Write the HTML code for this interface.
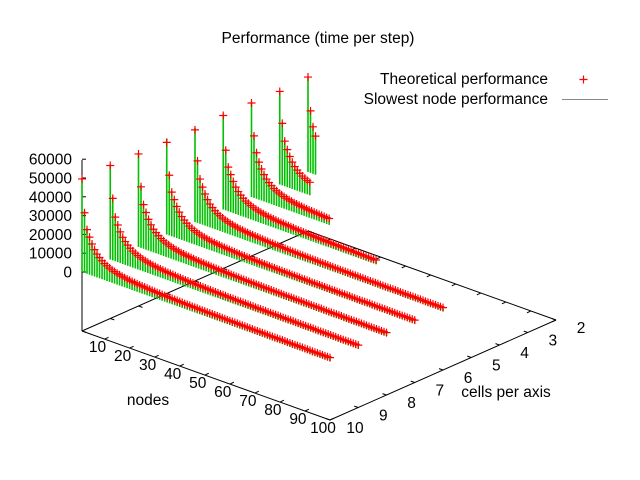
<!DOCTYPE html>
<html><head><meta charset="utf-8"><style>
html,body{margin:0;padding:0;background:#fff}
svg{display:block}
text{font-family:"Liberation Sans",Arial,sans-serif;font-size:15.5px;fill:#000}
</style></head><body>
<svg id="chart" width="640" height="480" viewBox="0 0 640 480" xmlns="http://www.w3.org/2000/svg">
<text x="318" y="43" text-anchor="middle">Performance (time per step)</text>
<g>
<text x="548" y="84" text-anchor="end">Theoretical performance</text>
<path d="M579.5,79.5h8M583.5,75.5v8" stroke="#f00" stroke-width="1.2"/>
<text x="548" y="104" text-anchor="end">Slowest node performance</text>
<line x1="562" y1="99.5" x2="608" y2="99.5" stroke="#888" stroke-width="1"/>
</g>
<g id="axes"></g>
<g id="marks"></g>
<text x="148" y="405" text-anchor="middle">nodes</text>
<text x="506" y="397" text-anchor="middle">cells per axis</text>
</svg>
<script>
// data (values in units of 100 time units)
const cellsList = [2,3,4,5,6,7,8,9,10];
const zTicks = [0,10000,20000,30000,40000,50000,60000];
const nodeTicks = [10,20,30,40,50,60,70,80,90,100];
const cellTicks = [2,3,4,5,6,7,8,9,10];
const theo2 = [505,330,250,205];
const slow2 = [505,335,258,212];
const theo3 = [495,330,240,200,168,143,124,110,98,88,81,74,69];
const slow3 = [500,338,248,208,176,151,132,118,106,96,89,82,77];
const theo4 = [500,330,245,200,168,143,124,110,98,88,81,74,69,64,60,57,54,51,49,47,45,44,42,41,40,39,38,37,36,35,34,34];
const slow4 = [505,338,253,208,176,151,132,118,106,96,89,82,77,72,68,65,62,59,57,55,53,52,50,49,48,47,46,45,44,43,42,42];
const theo5 = [500,320,235,200,168,143,124,110,98,88,81,74,69,64,60,57,54,51,49,47,45,44,42,41,40,39,38,37,36,35,34,34,33,32,32,31,31,30,30,29,29,28,28,28,27,27,27,26,26,26,25,25,25,25,24,24,24,24,23,23,23,23];
const slow5 = [505,330,243,208,176,151,132,118,106,96,89,82,77,72,68,65,62,59,57,55,53,52,50,49,48,47,46,45,44,43,42,42,41,40,40,39,39,38,38,37,37,36,36,36,35,35,35,34,34,34,33,33,33,33,32,32,32,32,31,31,31,31];
const theo6 = [490,330,238,200,168,143,124,110,98,88,81,74,69,64,60,57,54,51,49,47,45,44,42,41,40,39,38,37,36,35,34,34,33,32,32,31,31,30,30,29,29,28,28,28,27,27,27,26,26,26,25,25,25,25,24,24,24,24,23,23,23,23,23,22,22,22,22,22,21,21,21,21,21,21,20,20,20,20,20,20,20,20,19,19,19,19,19,19,19,19,19,18,18,18,18,18,18,18,18,18];
const slow6 = [500,338,246,208,176,151,132,118,106,96,89,82,77,72,68,65,62,59,57,55,53,52,50,49,48,47,46,45,44,43,42,42,41,40,40,39,39,38,38,37,37,36,36,36,35,35,35,34,34,34,33,33,33,33,32,32,32,32,31,31,31,31,31,30,30,30,30,30,29,29,29,29,29,29,28,28,28,28,28,28,28,28,27,27,27,27,27,27,27,27,27,26,26,26,26,26,26,26,26,26];
const theo7 = [490,320,235,200,168,143,124,110,98,88,81,74,69,64,60,57,54,51,49,47,45,44,42,41,40,39,38,37,36,35,34,34,33,32,32,31,31,30,30,29,29,28,28,28,27,27,27,26,26,26,25,25,25,25,24,24,24,24,23,23,23,23,23,22,22,22,22,22,21,21,21,21,21,21,20,20,20,20,20,20,20,20,19,19,19,19,19,19,19,19,19,18,18,18,18,18,18,18,18,18];
const slow7 = [510,332,243,208,176,151,132,118,106,96,89,82,77,72,68,65,62,59,57,55,53,52,50,49,48,47,46,45,44,43,42,42,41,40,40,39,39,38,38,37,37,36,36,36,35,35,35,34,34,34,33,33,33,33,32,32,32,32,31,31,31,31,31,30,30,30,30,30,29,29,29,29,29,29,28,28,28,28,28,28,28,28,27,27,27,27,27,27,27,27,27,26,26,26,26,26,26,26,26,26];
const theo8 = [495,325,235,198,166,142,123,110,98,88,81,74,69,64,60,57,54,51,49,47,45,44,42,41,40,39,38,37,36,35,34,34,33,32,32,31,31,30,30,29,29,28,28,28,27,27,27,26,26,26,25,25,25,25,24,24,24,24,23,23,23,23,23,22,22,22,22,22,21,21,21,21,21,21,20,20,20,20,20,20,20,20,19,19,19,19,19,19,19,19,19,18,18,18,18,18,18,18,18,18];
const slow8 = [500,333,243,206,174,150,131,118,106,96,89,82,77,72,68,65,62,59,57,55,53,52,50,49,48,47,46,45,44,43,42,42,41,40,40,39,39,38,38,37,37,36,36,36,35,35,35,34,34,34,33,33,33,33,32,32,32,32,31,31,31,31,31,30,30,30,30,30,29,29,29,29,29,29,28,28,28,28,28,28,28,28,27,27,27,27,27,27,27,27,27,26,26,26,26,26,26,26,26,26];
const theo9 = [500,330,235,198,166,142,124,110,98,88,81,74,69,64,60,57,54,51,49,47,45,44,42,41,40,39,38,37,36,35,34,34,33,32,32,31,31,30,30,29,29,28,28,28,27,27,27,26,26,26,25,25,25,25,24,24,24,24,23,23,23,23,23,22,22,22,22,22,21,21,21,21,21,21,20,20,20,20,20,20,20,20,19,19,19,19,19,19,19,19,19,18,18,18,18,18,18,18,18,18];
const slow9 = [505,338,243,206,174,150,132,118,106,96,89,82,77,72,68,65,62,59,57,55,53,52,50,49,48,47,46,45,44,43,42,42,41,40,40,39,39,38,38,37,37,36,36,36,35,35,35,34,34,34,33,33,33,33,32,32,32,32,31,31,31,31,31,30,30,30,30,30,29,29,29,29,29,29,28,28,28,28,28,28,28,28,27,27,27,27,27,27,27,27,27,26,26,26,26,26,26,26,26,26];
const theo10 = [495,320,235,200,168,143,124,110,98,88,81,74,69,64,60,57,54,51,49,47,45,44,42,41,40,39,38,37,36,35,34,34,33,32,32,31,31,30,30,29,29,28,28,28,27,27,27,26,26,26,25,25,25,25,24,24,24,24,23,23,23,23,23,22,22,22,22,22,21,21,21,21,21,21,20,20,20,20,20,20,20,20,19,19,19,19,19,19,19,19,19,18,18,18,18,18,18,18,18,18];
const slow10 = [500,330,243,208,176,151,132,118,106,96,89,82,77,72,68,65,62,59,57,55,53,52,50,49,48,47,46,45,44,43,42,42,41,40,40,39,39,38,38,37,37,36,36,36,35,35,35,34,34,34,33,33,33,33,32,32,32,32,31,31,31,31,31,30,30,30,30,30,29,29,29,29,29,29,28,28,28,28,28,28,28,28,27,27,27,27,27,27,27,27,27,26,26,26,26,26,26,26,26,26];
const theoRows = [theo2,theo3,theo4,theo5,theo6,theo7,theo8,theo9,theo10];
const slowRows = [slow2,slow3,slow4,slow5,slow6,slow7,slow8,slow9,slow10];

const NS = 'http://www.w3.org/2000/svg';
function px(n, c) { return 82 + (n - 1) * (248 / 99) + (10 - c) * (226 / 8); }
function pyBase(n, c) { return 331 + (n - 1) * (89 / 99) - (10 - c) * (100 / 8); }
function zOff(v) { return (v / 10000) * 18.8 + 59; }
function py(n, c, v) { return pyBase(n, c) - zOff(v); }

const axes = document.getElementById('axes');
const marks = document.getElementById('marks');
function mk(tag, attrs, parent) {
  const e = document.createElementNS(NS, tag);
  for (const k in attrs) e.setAttribute(k, attrs[k]);
  parent.appendChild(e);
  return e;
}
function line(x1, y1, x2, y2, parent, name) {
  const l = mk('line', { x1: x1, y1: y1, x2: x2, y2: y2, stroke: '#000', 'stroke-width': 1 }, parent);
  
  
  return l;
}
line(px(1,10), pyBase(1,10), px(100,10), pyBase(100,10), axes, 'x-axis-line');
line(px(100,10), pyBase(100,10), px(100,2), pyBase(100,2), axes, 'y-axis-line');
line(px(1,2), pyBase(1,2), px(100,2), pyBase(100,2), axes, 'back-edge-line');
line(px(1,10), pyBase(1,10), px(1,2), pyBase(1,2), axes, 'left-edge-line');
line(px(1,10), pyBase(1,10), px(1,10), 160, axes, 'z-axis-line');
zTicks.forEach(function (v) {
  const y = pyBase(1,10) - zOff(v);
  line(82, y, 86, y, axes, 'z-tick');
  const t = mk('text', { x: 72, y: y + 5.5, 'text-anchor': 'end' }, axes);
  
  
  t.textContent = String(v);
});
nodeTicks.forEach(function (n) {
  const x = px(n,10), y = pyBase(n,10);
  line(x, y, x + 4, y - 1.8, axes, 'x-tick');
  const xb = px(n,2), yb = pyBase(n,2);
  line(xb, yb, xb - 4, yb + 1.8, axes, 'x-tick-mirror');
  const t = mk('text', { x: x - 7, y: y + 13, 'text-anchor': 'middle' }, axes);
  
  
  t.textContent = String(n);
});
cellTicks.forEach(function (c) {
  const x = px(100,c), y = pyBase(100,c);
  line(x, y, x - 4, y - 1.4, axes, 'y-tick');
  const xl = px(1,c), yl = pyBase(1,c);
  line(xl, yl, xl + 4, yl + 1.4, axes, 'y-tick-mirror');
  const t = mk('text', { x: x + 25, y: y + 13, 'text-anchor': 'middle' }, axes);
  
  
  t.textContent = String(c);
});
cellsList.forEach(function (c, ri) {
  const th = theoRows[ri], sl = slowRows[ri];
  const g = mk('g', {}, marks);
  
  
  for (let i = 0; i < sl.length; i++) {
    const n = i + 1;
    const x = px(n, c);
    const imp = mk('line', { x1: x, y1: py(n, c, 0), x2: x, y2: py(n, c, sl[i] * 100), stroke: '#00c000', 'stroke-width': 1.6 }, g);
    
    
  }
  for (let i = 0; i < th.length; i++) {
    const n = i + 1;
    const x = px(n, c), y = py(n, c, th[i] * 100);
    const p = mk('path', { d: 'M' + (x - 4) + ',' + y + 'h8M' + x + ',' + (y - 4) + 'v8', stroke: '#f00', 'stroke-width': 1.2, fill: 'none' }, g);
    
    
  }
});
</script>
</body></html>
